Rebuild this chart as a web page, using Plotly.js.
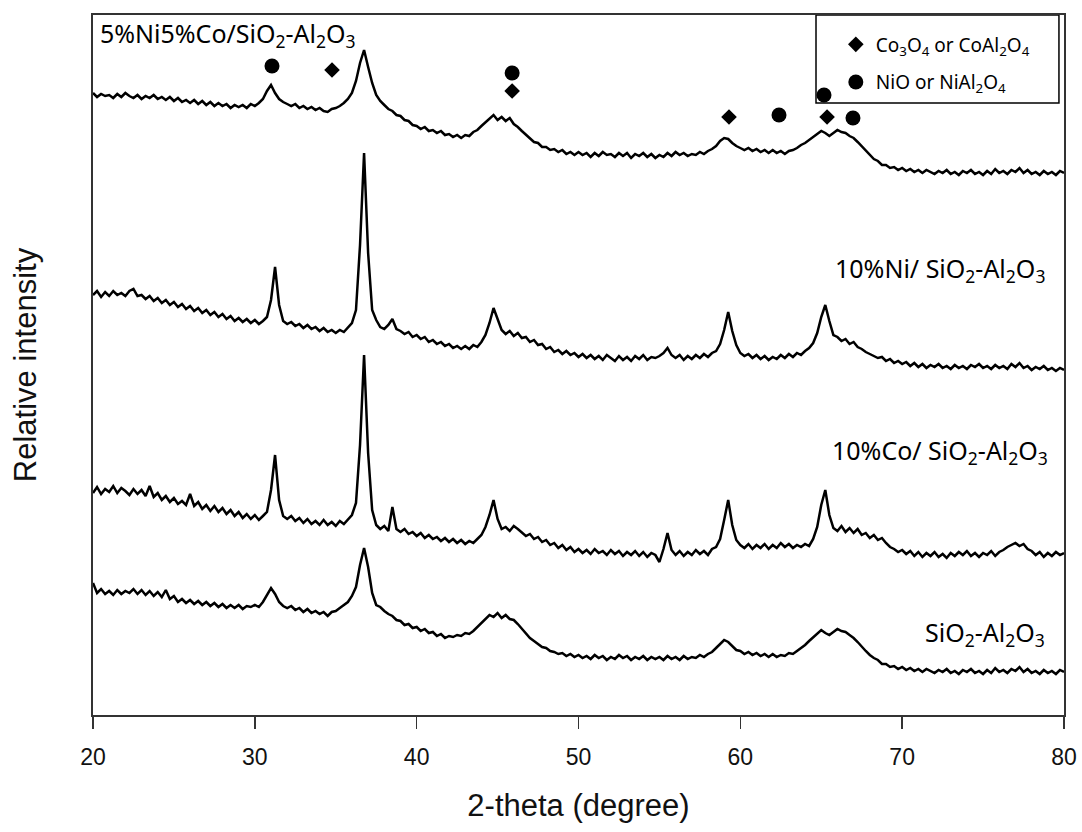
<!DOCTYPE html>
<html>
<head>
<meta charset="utf-8">
<script src="https://cdn.plot.ly/plotly-3.0.1.min.js"></script>
<style>html,body{margin:0;padding:0;background:#fff;}#chart{width:1082px;height:832px;}</style>
</head>
<body>
<div id="chart"></div>
<script>
// 2-theta scan: 20..80 deg, 0.25 deg step
const twoThetaStart = 20;
const twoThetaStep = 0.25;

// Stacked intensities (a.u., already offset for display)
const niCoValues = [
622,618,621,619,620,617,621,618,622,619,617,620,616,619,617,620,616,618,615,618,
614,617,613,615,612,615,611,614,610,613,609,612,609,611,607,610,608,610,607,611,
609,612,616,624,630,622,616,613,611,609,611,607,609,606,608,605,607,604,603,606,
607,609,612,616,622,634,652,665,648,632,620,614,610,606,604,600,599,595,594,590,
589,586,588,584,585,582,584,580,581,578,580,577,580,579,583,585,589,593,597,600,
595,598,594,597,591,588,584,580,577,573,572,568,568,565,566,563,565,561,563,560,
563,560,562,558,562,559,563,560,561,558,562,559,562,557,561,559,562,558,561,557,
560,558,562,559,563,560,562,559,561,560,563,561,564,566,569,574,577,576,572,569,
567,565,567,564,566,563,565,562,565,562,564,561,564,565,567,570,572,575,578,581,
584,582,579,582,585,583,582,579,577,573,569,564,560,556,554,550,550,547,548,545,
547,544,546,543,545,542,545,543,541,544,542,545,541,543,540,544,542,545,541,543,
540,544,541,546,542,544,541,545,543,547,542,545,541,543,540,544,541,543,540,544,542];

const niValues = [
420,424,418,423,419,424,420,422,419,424,426,419,420,416,419,414,417,412,415,410,
413,408,411,406,409,404,407,402,405,400,403,398,401,396,399,394,397,393,396,392,
395,391,394,398,415,448,410,394,391,393,389,391,387,390,386,388,384,387,383,385,
382,385,383,388,392,405,470,562,462,405,395,388,386,390,396,386,384,381,383,378,
380,376,378,373,375,371,373,369,371,367,369,366,369,366,370,368,373,380,392,407,
395,385,381,384,379,382,377,378,373,375,370,371,366,368,363,365,361,364,360,362,
358,361,357,360,356,359,355,360,357,354,359,355,358,354,359,356,360,355,358,357,
359,362,367,360,357,360,355,359,356,360,357,361,358,362,364,371,385,403,384,370,
362,359,361,357,360,356,359,355,358,356,360,357,361,358,362,360,364,367,372,382,
398,410,394,380,378,374,376,371,373,368,366,363,361,359,357,358,354,356,352,354,
351,353,349,352,348,351,347,350,348,351,347,349,346,350,347,349,346,350,348,351,
347,349,346,350,347,349,346,351,348,352,347,349,345,348,346,349,345,347,344,347,345];

const coValues = [
222,228,221,226,223,229,222,227,224,220,226,221,225,219,229,218,222,215,219,213,
217,211,214,210,221,209,213,206,210,204,209,203,207,201,205,199,203,197,201,196,
200,195,199,203,225,260,215,199,196,199,194,197,192,196,191,194,190,195,190,193,
189,194,191,196,200,212,270,360,262,205,190,186,189,184,208,186,183,186,181,183,
179,182,177,180,176,178,174,177,173,176,172,175,171,174,172,176,180,188,200,215,
196,186,188,184,189,186,182,179,181,176,178,173,175,170,172,167,170,165,168,163,
166,162,165,161,166,162,164,160,165,161,164,159,163,160,164,159,163,158,162,160,
153,166,182,165,160,164,159,163,160,165,161,164,160,166,168,176,195,215,190,175,
170,167,171,166,170,167,171,166,170,167,172,168,171,167,170,168,171,169,176,188,
210,225,200,187,184,189,183,187,182,186,180,182,177,180,175,177,172,168,166,163,
165,161,164,159,163,158,162,159,163,158,161,157,162,159,163,160,164,159,162,158,
162,160,164,159,163,165,168,170,172,169,171,166,164,160,163,158,162,159,163,160,162];

const supportValues = [
132,122,126,121,124,120,125,121,124,122,126,121,125,120,124,119,123,118,125,116,
119,113,116,112,115,111,114,110,113,109,112,108,111,107,110,107,110,106,109,108,
110,108,113,120,127,121,113,109,107,109,105,107,103,106,102,104,101,103,99,103,
104,107,110,113,119,128,150,167,148,122,110,108,104,101,99,95,94,90,91,87,
88,84,86,82,83,79,81,77,79,78,80,79,82,81,84,88,92,96,100,98,
102,97,100,96,95,91,86,81,77,74,71,68,67,64,63,61,62,59,61,58,
60,57,59,56,60,57,59,55,58,56,60,57,59,55,58,56,59,55,58,56,
58,55,59,56,58,55,59,56,58,57,60,58,61,63,67,71,75,73,69,65,
64,61,63,60,62,59,61,58,61,58,60,59,62,61,64,67,70,74,78,81,
85,82,80,83,86,84,83,80,77,73,68,64,60,57,55,51,51,48,49,46,
48,45,47,44,46,43,46,44,42,45,43,46,42,44,41,45,43,46,42,44,
41,45,42,47,43,45,42,46,44,48,43,46,42,44,41,45,42,44,41,45,43];

const seriesNames = ['5%Ni5%Co/SiO<sub>2</sub>-Al<sub>2</sub>O<sub>3</sub>',
                     '10%Ni/ SiO<sub>2</sub>-Al<sub>2</sub>O<sub>3</sub>',
                     '10%Co/ SiO<sub>2</sub>-Al<sub>2</sub>O<sub>3</sub>',
                     'SiO<sub>2</sub>-Al<sub>2</sub>O<sub>3</sub>'];

// Phase markers (peak positions, marker heights)
const cobaltPhaseX = [34.77, 45.9, 59.3, 65.36];
const cobaltPhaseY = [645, 624, 598, 598];
const nickelPhaseX = [31.06, 45.9, 62.39, 65.17, 66.96];
const nickelPhaseY = [649, 642, 600, 620, 597];

// Label anchors
const labelX = [20.3, 78.95, 79.14, 78.95];
const labelY = [681, 446, 264, 82];
const labelAnchor = ['left', 'right', 'right', 'right'];

const xTicks = [20, 30, 40, 50, 60, 70, 80];

function grid(n) {
  const out = [];
  for (let i = 0; i < n; i++) out.push(+(twoThetaStart + i * twoThetaStep).toFixed(2));
  return out;
}

const allSeries = [niCoValues, niValues, coValues, supportValues];
const traces = allSeries.map((vals, k) => ({
  type: 'scatter', mode: 'lines',
  x: grid(vals.length), y: vals,
  name: seriesNames[k], showlegend: false,
  line: {color: '#000', width: 2.5},
  hoverinfo: 'skip'
}));

traces.push({
  type: 'scatter', mode: 'markers', x: cobaltPhaseX, y: cobaltPhaseY,
  name: 'Co<sub>3</sub>O<sub>4</sub> or CoAl<sub>2</sub>O<sub>4</sub>',
  marker: {symbol: 'diamond', size: 12, color: '#000'},
  legendgroup: 'co', showlegend: true
});
traces.push({
  type: 'scatter', mode: 'markers', x: nickelPhaseX, y: nickelPhaseY,
  name: 'NiO or NiAl<sub>2</sub>O<sub>4</sub>',
  marker: {symbol: 'circle', size: 15, color: '#000'},
  legendgroup: 'ni', showlegend: true
});

const labelFont = {family: 'Noto Sans, sans-serif', size: 25, color: '#000'};
const annotations = seriesNames.map((t, k) => ({
  x: labelX[k], y: labelY[k], xref: 'x', yref: 'y',
  text: t, showarrow: false, xanchor: labelAnchor[k], yanchor: 'middle',
  font: labelFont
}));

const layout = {
  width: 1082, height: 832,
  margin: {l: 93, r: 18, t: 15, b: 117},
  paper_bgcolor: '#fff', plot_bgcolor: '#fff',
  showlegend: true,
  legend: {
    x: 0.765, y: 0.985, xanchor: 'left', yanchor: 'top',
    bgcolor: 'rgba(0,0,0,0)', borderwidth: 0,
    font: {family: 'Noto Sans, sans-serif', size: 19, color: '#000'},
    traceorder: 'grouped', tracegroupgap: 10
  },
  xaxis: {
    range: [20, 80], tickvals: xTicks, ticktext: xTicks.map(String),
    ticks: 'outside', ticklen: 12, tickwidth: 1.5, tickcolor: '#333',
    ticklabelstandoff: 8,
    showline: true, mirror: true, linecolor: '#333', linewidth: 2,
    showgrid: false, zeroline: false,
    tickfont: {family: 'Liberation Sans, Arial, sans-serif', size: 23, color: '#111'},
    title: {text: '2-theta (degree)', font: {family: 'Liberation Sans, Arial, sans-serif', size: 31, color: '#111'}, standoff: 26}
  },
  yaxis: {
    range: [0, 700], showticklabels: false, ticks: '',
    showline: true, mirror: true, linecolor: '#333', linewidth: 2,
    showgrid: false, zeroline: false,
    title: {text: 'Relative intensity', font: {family: 'Liberation Sans, Arial, sans-serif', size: 31, color: '#111'}, standoff: 45}
  },
  shapes: [{
    type: 'rect', xref: 'paper', yref: 'paper',
    x0: 0.7446, x1: 0.9948, y0: 0.8743, y1: 1.0,
    line: {color: '#000', width: 1.5}, fillcolor: '#fff', layer: 'below'
  }],
  annotations: annotations
};

Plotly.newPlot('chart', traces, layout, {displayModeBar: false, staticPlot: true});
</script>
</body>
</html>
